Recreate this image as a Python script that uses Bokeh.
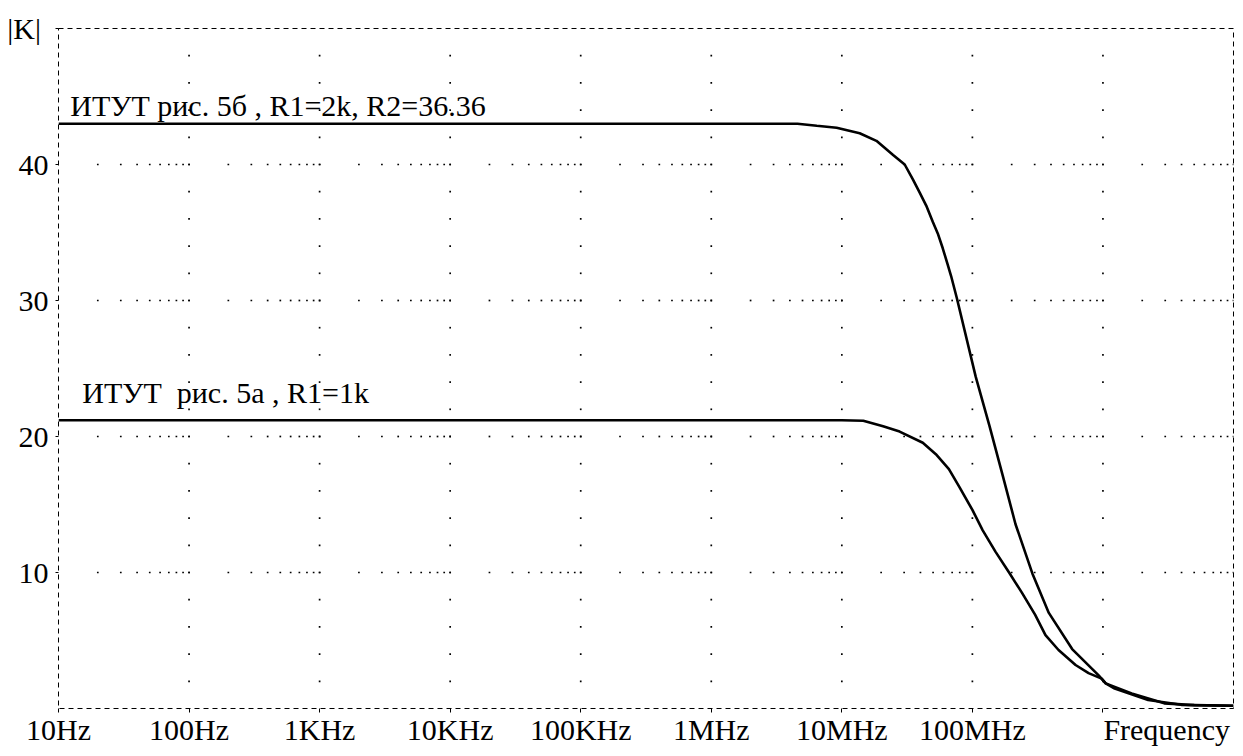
from bokeh.plotting import figure
from bokeh.models import FixedTicker, Label
from bokeh.embed import file_html
from bokeh.resources import INLINE

# ---- data ----
# ИТУТ рис. 5б , R1=2k, R2=36.36
freq_b = [10, 1e3, 1e5, 1e6, 4.57e6, 6.43e6, 9.12e6, 13.7e6, 18.4e6, 24.7e6, 30.3e6,
          35.0e6, 39.4e6, 44.3e6, 49.8e6, 54.3e6, 59.3e6, 64.7e6, 68.7e6, 75.9e6,
          106e6, 135e6, 170e6, 214e6, 288e6, 385e6, 581e6, 927e6, 1.05e9, 1.23e9,
          2.22e9, 3.98e9, 1e10]
k_b = [43.0, 43.0, 43.0, 43.0, 43.0, 42.85, 42.7, 42.3, 41.74, 40.7, 40.0,
       38.9, 37.95, 36.98, 35.77, 34.93, 33.84, 32.63, 31.8, 30.2,
       24.4, 20.8, 17.2, 13.55, 9.93, 7.03, 4.37, 2.44, 1.85, 1.47,
       0.63, 0.27, 0.2]

# ИТУТ  рис. 5а , R1=1k
freq_a = [10, 1e3, 1e5, 1e6, 1e7, 14.6e6, 20.7e6, 27.7e6, 41.7e6, 52.5e6, 66.1e6,
          79.4e6, 100e6, 120e6, 151e6, 191e6, 240e6, 302e6, 363e6, 457e6, 617e6,
          776e6, 977e6, 1.05e9, 1.66e9, 2.95e9, 5.0e9, 1e10]
k_a = [21.2, 21.2, 21.2, 21.2, 21.2, 21.16, 20.75, 20.36, 19.54, 18.7, 17.6,
       16.3, 14.6, 13.1, 11.5, 10.0, 8.5, 6.9, 5.4, 4.3, 3.2,
       2.6, 2.2, 1.85, 1.11, 0.38, 0.25, 0.2]

NB = "\u00a0"
x_ticks = [10.0, 1e2, 1e3, 1e4, 1e5, 1e6, 1e7, 1e8, 1e9]
x_tick_labels = ["10Hz", "100Hz", "1KHz", "10KHz", "100KHz", "1MHz", "10MHz", "100MHz",
                 NB * 17 + "Frequency"]
y_ticks = [10, 20, 30, 40, 50]
y_tick_labels = ["10", "20", "30", "40", "|K|" + NB]

label_b = "ИТУТ рис. 5б , R1=2k, R2=36.36"
label_a = "ИТУТ" + NB + " рис. 5а , R1=1k"

FONT = "Liberation Serif"
FS = "30px"

p = figure(width=1235, height=748, x_axis_type="log",
           x_range=(10, 1e10), y_range=(0, 50),
           output_backend="svg", toolbar_location=None,
           min_border_left=58, min_border_right=2, min_border_top=28,
           background_fill_color="white", border_fill_color="white")

# frame: dashed box
p.outline_line_color = "black"
p.outline_line_dash = "5 4"
p.outline_line_width = 1
p.xgrid.grid_line_color = None
p.ygrid.grid_line_color = None

for ax in (p.xaxis, p.yaxis):
    ax.axis_line_color = None
    ax.minor_tick_line_color = None
    ax.major_tick_in = 0
    ax.major_tick_line_color = "black"
    ax.major_label_text_font = FONT
    ax.major_label_text_font_size = FS
    ax.major_label_text_color = "black"

p.xaxis.ticker = FixedTicker(ticks=x_ticks)
p.xaxis.major_label_overrides = {t: l for t, l in zip(x_ticks, x_tick_labels)}
p.xaxis.major_tick_out = 4
p.xaxis.major_label_standoff = 0
p.yaxis.ticker = FixedTicker(ticks=y_ticks)
p.yaxis.major_label_overrides = {t: l for t, l in zip(y_ticks, y_tick_labels)}
p.yaxis.major_tick_out = 3
p.yaxis.major_label_standoff = 7

# dotted grid (dots along decade verticals, at log minor positions on horizontals)
gx, gy = [], []
for d in x_ticks[1:]:
    for yv in range(2, 50, 2):
        gx.append(d)
        gy.append(yv)
for yv in y_ticks[:-1]:
    for d in x_ticks:
        for m in range(2, 11):
            gx.append(d * m)
            gy.append(yv)
p.scatter(gx, gy, marker="square", size=1.7, fill_color="black", line_color=None)

# curves
p.line(freq_b, k_b, line_color="black", line_width=2.6)
p.line(freq_a, k_a, line_color="black", line_width=2.6)

# curve labels
p.add_layout(Label(x=12.3, y=44.35, text=label_b, text_font=FONT, text_font_size=FS,
                   text_color="black", text_baseline="alphabetic"))
p.add_layout(Label(x=15.2, y=23.26, text=label_a, text_font=FONT, text_font_size=FS,
                   text_color="black", text_baseline="alphabetic"))

open("out.html", "w").write(file_html(p, INLINE))
